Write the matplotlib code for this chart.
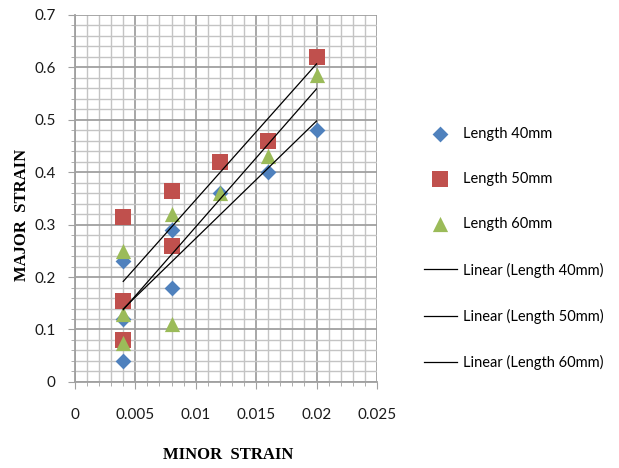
import numpy as np
import matplotlib
matplotlib.use("Agg")
import matplotlib.pyplot as plt
from matplotlib.ticker import MultipleLocator

# minor strain positions shared by all three specimen lengths
minor = [0.004, 0.004, 0.004, 0.008, 0.008, 0.012, 0.016, 0.020]

# major strain, one list per specimen length
major_40 = [0.23, 0.12, 0.04, 0.29, 0.18, 0.36, 0.40, 0.48]
major_50 = [0.315, 0.155, 0.08, 0.365, 0.26, 0.42, 0.46, 0.62]
major_60 = [0.25, 0.13, 0.075, 0.32, 0.11, 0.36, 0.43, 0.585]

names = ["Length 40mm", "Length 50mm", "Length 60mm"]
series = [major_40, major_50, major_60]
colors = ["#4F81BD", "#C0504D", "#9BBB59"]
markers = ["D", "s", "^"]
msizes = [65, 120, 120]

plt.rcParams['font.family'] = ['Lato', 'DejaVu Sans']

fig = plt.figure(figsize=(6.19, 4.68), dpi=100)
ax = fig.add_axes([0.121, 0.184, 0.488, 0.784])

x = np.array(minor)
handles = []
for name, ys, c, m, s in zip(names, series, colors, markers, msizes):
    h = ax.scatter(x, ys, marker=m, s=s, color=c, label=name, zorder=3, linewidths=0)
    handles.append(h)

# least squares trend line for every series
for name, ys in zip(names, series):
    k, b = np.polyfit(x, np.array(ys), 1)
    xs = np.array([x.min(), x.max()])
    h, = ax.plot(xs, k * xs + b, color="black", lw=0.9, zorder=4,
                 label="Linear (" + name + ")")
    handles.append(h)

ax.set_xlim(0, 0.025)
ax.set_ylim(0, 0.7)
ax.xaxis.set_major_locator(MultipleLocator(0.005))
ax.xaxis.set_minor_locator(MultipleLocator(0.001))
ax.yaxis.set_major_locator(MultipleLocator(0.1))
ax.yaxis.set_minor_locator(MultipleLocator(0.02))
ax.set_xticks(np.arange(0, 0.0251, 0.005))
ax.set_xticklabels(["0", "0.005", "0.01", "0.015", "0.02", "0.025"])
ax.set_yticks(np.arange(0, 0.71, 0.1))
ax.set_yticklabels(["0", "0.1", "0.2", "0.3", "0.4", "0.5", "0.6", "0.7"])

ax.grid(which="major", color="#a0a0a0", lw=1.3)
ax.grid(which="minor", color="#c4c4c4", lw=1.0)
ax.set_axisbelow(True)
for sp in ["top", "right"]:
    ax.spines[sp].set_visible(False)
for sp in ["left", "bottom"]:
    ax.spines[sp].set_color("#a0a0a0")
    ax.spines[sp].set_linewidth(1.3)

ax.tick_params(which="major", length=5, color="#a0a0a0", labelsize=11,
               labelcolor="#1a1a1a")
ax.tick_params(axis="x", which="major", pad=14)
ax.tick_params(axis="y", which="major", pad=9)
ax.tick_params(which="minor", length=3, color="#a0a0a0")

ax.set_xlabel("MINOR  STRAIN", family="Liberation Serif", fontweight="bold",
              fontsize=12, va="center")
ax.set_ylabel("MAJOR  STRAIN", family="Liberation Serif", fontweight="bold",
              fontsize=12, va="center")
ax.xaxis.set_label_coords(0.507, -0.2)
ax.yaxis.set_label_coords(-0.175, 0.455)

fig.legend(handles=handles, loc="upper left", bbox_to_anchor=(0.663, 0.757),
           frameon=False, fontsize=10.5, labelspacing=2.14, handlelength=2.3,
           handletextpad=0.4, scatterpoints=1)

fig.savefig("out.png", dpi=100)
